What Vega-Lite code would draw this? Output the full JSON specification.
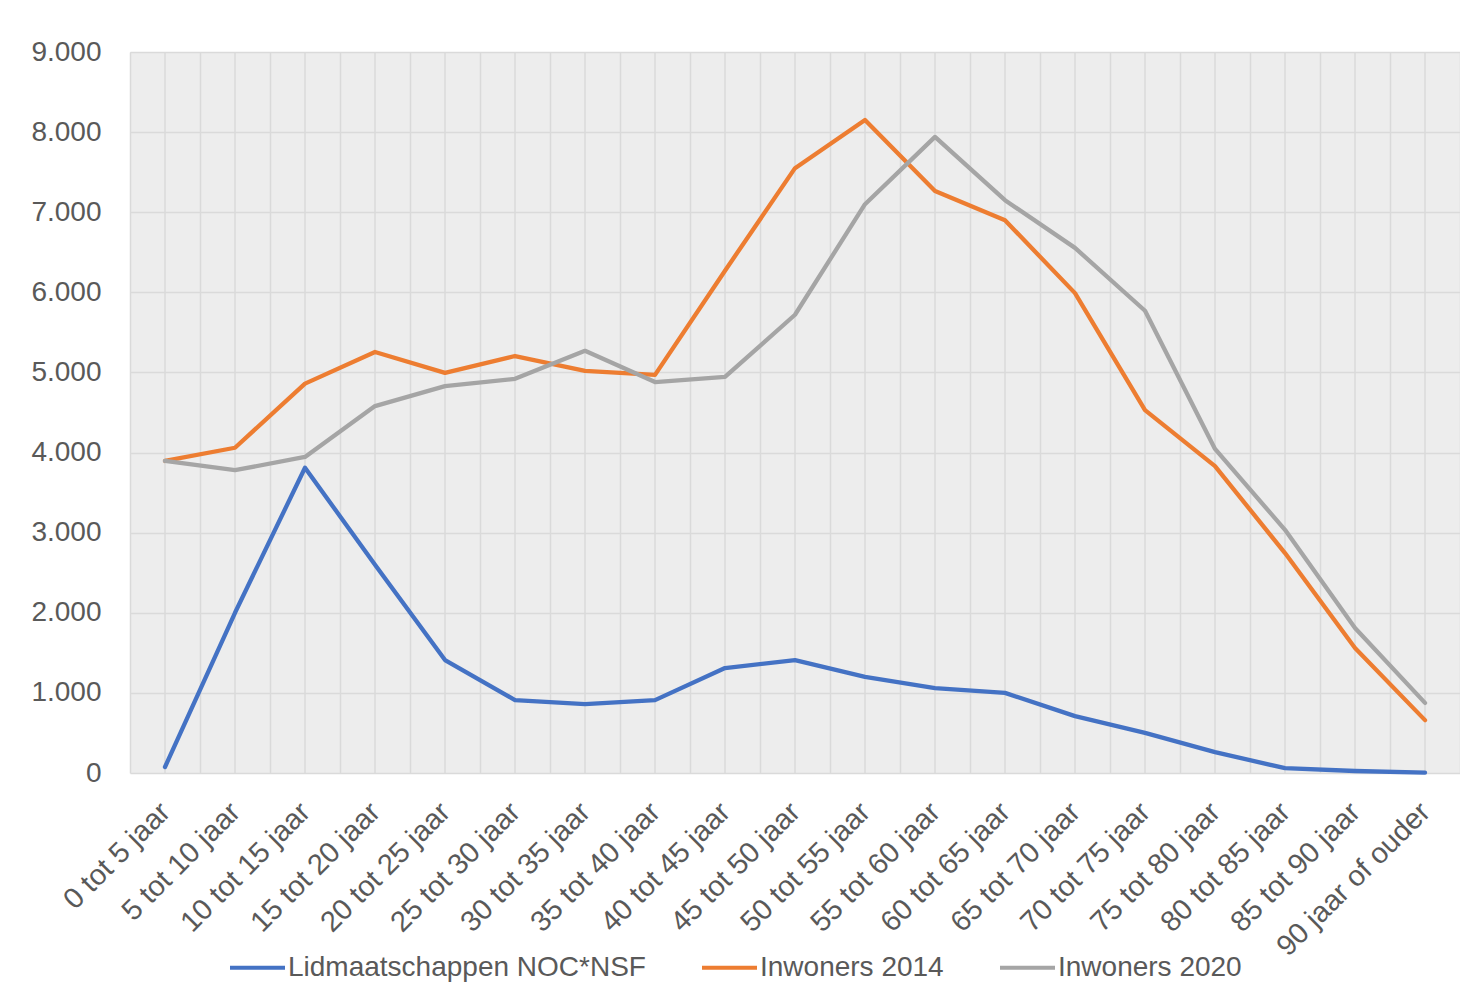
{
  "$schema": "https://vega.github.io/schema/vega-lite/v6.json",
  "autosize": {"type": "none"},
  "width": 1330,
  "height": 721,
  "padding": {"left": 130, "top": 52, "right": 0, "bottom": 233},
  "background": "white",
  "config": {
    "view": {"fill": "#ededed", "stroke": null},
    "font": "Liberation Sans"
  },
  "datasets": {
    "cats": [
      {"leeftijd": "0 tot 5 jaar"}, {"leeftijd": "5 tot 10 jaar"}, {"leeftijd": "10 tot 15 jaar"},
      {"leeftijd": "15 tot 20 jaar"}, {"leeftijd": "20 tot 25 jaar"}, {"leeftijd": "25 tot 30 jaar"},
      {"leeftijd": "30 tot 35 jaar"}, {"leeftijd": "35 tot 40 jaar"}, {"leeftijd": "40 tot 45 jaar"},
      {"leeftijd": "45 tot 50 jaar"}, {"leeftijd": "50 tot 55 jaar"}, {"leeftijd": "55 tot 60 jaar"},
      {"leeftijd": "60 tot 65 jaar"}, {"leeftijd": "65 tot 70 jaar"}, {"leeftijd": "70 tot 75 jaar"},
      {"leeftijd": "75 tot 80 jaar"}, {"leeftijd": "80 tot 85 jaar"}, {"leeftijd": "85 tot 90 jaar"},
      {"leeftijd": "90 jaar of ouder"}
    ],
    "reeksen": [
      {"leeftijd": "0 tot 5 jaar", "reeks": "Lidmaatschappen NOC*NSF", "aantal": 75},
      {"leeftijd": "5 tot 10 jaar", "reeks": "Lidmaatschappen NOC*NSF", "aantal": 2000},
      {"leeftijd": "10 tot 15 jaar", "reeks": "Lidmaatschappen NOC*NSF", "aantal": 3810},
      {"leeftijd": "15 tot 20 jaar", "reeks": "Lidmaatschappen NOC*NSF", "aantal": 2600},
      {"leeftijd": "20 tot 25 jaar", "reeks": "Lidmaatschappen NOC*NSF", "aantal": 1410},
      {"leeftijd": "25 tot 30 jaar", "reeks": "Lidmaatschappen NOC*NSF", "aantal": 910},
      {"leeftijd": "30 tot 35 jaar", "reeks": "Lidmaatschappen NOC*NSF", "aantal": 860},
      {"leeftijd": "35 tot 40 jaar", "reeks": "Lidmaatschappen NOC*NSF", "aantal": 910},
      {"leeftijd": "40 tot 45 jaar", "reeks": "Lidmaatschappen NOC*NSF", "aantal": 1310},
      {"leeftijd": "45 tot 50 jaar", "reeks": "Lidmaatschappen NOC*NSF", "aantal": 1410},
      {"leeftijd": "50 tot 55 jaar", "reeks": "Lidmaatschappen NOC*NSF", "aantal": 1200},
      {"leeftijd": "55 tot 60 jaar", "reeks": "Lidmaatschappen NOC*NSF", "aantal": 1060},
      {"leeftijd": "60 tot 65 jaar", "reeks": "Lidmaatschappen NOC*NSF", "aantal": 1000},
      {"leeftijd": "65 tot 70 jaar", "reeks": "Lidmaatschappen NOC*NSF", "aantal": 710},
      {"leeftijd": "70 tot 75 jaar", "reeks": "Lidmaatschappen NOC*NSF", "aantal": 500},
      {"leeftijd": "75 tot 80 jaar", "reeks": "Lidmaatschappen NOC*NSF", "aantal": 260},
      {"leeftijd": "80 tot 85 jaar", "reeks": "Lidmaatschappen NOC*NSF", "aantal": 60},
      {"leeftijd": "85 tot 90 jaar", "reeks": "Lidmaatschappen NOC*NSF", "aantal": 25},
      {"leeftijd": "90 jaar of ouder", "reeks": "Lidmaatschappen NOC*NSF", "aantal": 5},
      {"leeftijd": "0 tot 5 jaar", "reeks": "Inwoners 2014", "aantal": 3895},
      {"leeftijd": "5 tot 10 jaar", "reeks": "Inwoners 2014", "aantal": 4060},
      {"leeftijd": "10 tot 15 jaar", "reeks": "Inwoners 2014", "aantal": 4860},
      {"leeftijd": "15 tot 20 jaar", "reeks": "Inwoners 2014", "aantal": 5255},
      {"leeftijd": "20 tot 25 jaar", "reeks": "Inwoners 2014", "aantal": 4995},
      {"leeftijd": "25 tot 30 jaar", "reeks": "Inwoners 2014", "aantal": 5205},
      {"leeftijd": "30 tot 35 jaar", "reeks": "Inwoners 2014", "aantal": 5020},
      {"leeftijd": "35 tot 40 jaar", "reeks": "Inwoners 2014", "aantal": 4970},
      {"leeftijd": "40 tot 45 jaar", "reeks": "Inwoners 2014", "aantal": 6270},
      {"leeftijd": "45 tot 50 jaar", "reeks": "Inwoners 2014", "aantal": 7550},
      {"leeftijd": "50 tot 55 jaar", "reeks": "Inwoners 2014", "aantal": 8150},
      {"leeftijd": "55 tot 60 jaar", "reeks": "Inwoners 2014", "aantal": 7265},
      {"leeftijd": "60 tot 65 jaar", "reeks": "Inwoners 2014", "aantal": 6900},
      {"leeftijd": "65 tot 70 jaar", "reeks": "Inwoners 2014", "aantal": 5990},
      {"leeftijd": "70 tot 75 jaar", "reeks": "Inwoners 2014", "aantal": 4530},
      {"leeftijd": "75 tot 80 jaar", "reeks": "Inwoners 2014", "aantal": 3830},
      {"leeftijd": "80 tot 85 jaar", "reeks": "Inwoners 2014", "aantal": 2745},
      {"leeftijd": "85 tot 90 jaar", "reeks": "Inwoners 2014", "aantal": 1560},
      {"leeftijd": "90 jaar of ouder", "reeks": "Inwoners 2014", "aantal": 660},
      {"leeftijd": "0 tot 5 jaar", "reeks": "Inwoners 2020", "aantal": 3895},
      {"leeftijd": "5 tot 10 jaar", "reeks": "Inwoners 2020", "aantal": 3780},
      {"leeftijd": "10 tot 15 jaar", "reeks": "Inwoners 2020", "aantal": 3945},
      {"leeftijd": "15 tot 20 jaar", "reeks": "Inwoners 2020", "aantal": 4580},
      {"leeftijd": "20 tot 25 jaar", "reeks": "Inwoners 2020", "aantal": 4830},
      {"leeftijd": "25 tot 30 jaar", "reeks": "Inwoners 2020", "aantal": 4920},
      {"leeftijd": "30 tot 35 jaar", "reeks": "Inwoners 2020", "aantal": 5270},
      {"leeftijd": "35 tot 40 jaar", "reeks": "Inwoners 2020", "aantal": 4880},
      {"leeftijd": "40 tot 45 jaar", "reeks": "Inwoners 2020", "aantal": 4945},
      {"leeftijd": "45 tot 50 jaar", "reeks": "Inwoners 2020", "aantal": 5720},
      {"leeftijd": "50 tot 55 jaar", "reeks": "Inwoners 2020", "aantal": 7100},
      {"leeftijd": "55 tot 60 jaar", "reeks": "Inwoners 2020", "aantal": 7940},
      {"leeftijd": "60 tot 65 jaar", "reeks": "Inwoners 2020", "aantal": 7150},
      {"leeftijd": "65 tot 70 jaar", "reeks": "Inwoners 2020", "aantal": 6555},
      {"leeftijd": "70 tot 75 jaar", "reeks": "Inwoners 2020", "aantal": 5770},
      {"leeftijd": "75 tot 80 jaar", "reeks": "Inwoners 2020", "aantal": 4045},
      {"leeftijd": "80 tot 85 jaar", "reeks": "Inwoners 2020", "aantal": 3035},
      {"leeftijd": "85 tot 90 jaar", "reeks": "Inwoners 2020", "aantal": 1810},
      {"leeftijd": "90 jaar of ouder", "reeks": "Inwoners 2020", "aantal": 875}
    ]
  },
  "layer": [
    {
      "data": {"name": "cats"},
      "mark": {"type": "rule", "stroke": "#dadada", "strokeWidth": 1.5},
      "encoding": {
        "x": {"field": "leeftijd", "type": "nominal", "sort": null, "bandPosition": 0.5}
      }
    },
    {
      "data": {"name": "reeksen"},
      "mark": {"type": "line", "strokeWidth": 4.3, "strokeJoin": "round", "strokeCap": "round"},
      "encoding": {
        "x": {
          "field": "leeftijd",
          "type": "nominal",
          "sort": null,
          "bandPosition": 0.5,
          "scale": {"type": "band", "paddingInner": 0, "paddingOuter": 0},
          "axis": {
            "title": null,
            "domain": false,
            "ticks": false,
            "grid": true,
            "tickBand": "extent",
            "gridColor": "#dadada",
            "gridWidth": 1.5,
            "labelAngle": -45,
            "labelAlign": "right",
            "labelBaseline": "middle",
            "labelFontSize": 29,
            "labelColor": "#595959",
            "labelPadding": 34,
            "labelLimit": 500,
            "labelOverlap": false
          }
        },
        "y": {
          "field": "aantal",
          "type": "quantitative",
          "scale": {"domain": [0, 9000], "nice": false},
          "axis": {
            "title": null,
            "values": [0, 1000, 2000, 3000, 4000, 5000, 6000, 7000, 8000, 9000],
            "domain": false,
            "ticks": false,
            "gridColor": "#dadada",
            "gridWidth": 1.5,
            "format": ",d",
            "labelExpr": "replace(datum.label, ',', '.')",
            "labelFontSize": 28,
            "labelColor": "#595959",
            "labelPadding": 29
          }
        },
        "color": {
          "field": "reeks",
          "type": "nominal",
          "sort": null,
          "scale": {
            "domain": ["Lidmaatschappen NOC*NSF", "Inwoners 2014", "Inwoners 2020"],
            "range": ["#4472C4", "#ED7D31", "#A5A5A5"]
          },
          "legend": {
            "title": null,
            "orient": "none",
            "direction": "horizontal",
            "legendX": 98,
            "legendY": 886,
            "padding": 0,
            "symbolType": "stroke",
            "symbolSize": 3025,
            "symbolStrokeWidth": 4,
            "labelFontSize": 28,
            "labelColor": "#595959",
            "labelOffset": 1,
            "labelLimit": 600,
            "columnPadding": 48
          }
        }
      }
    }
  ]
}
